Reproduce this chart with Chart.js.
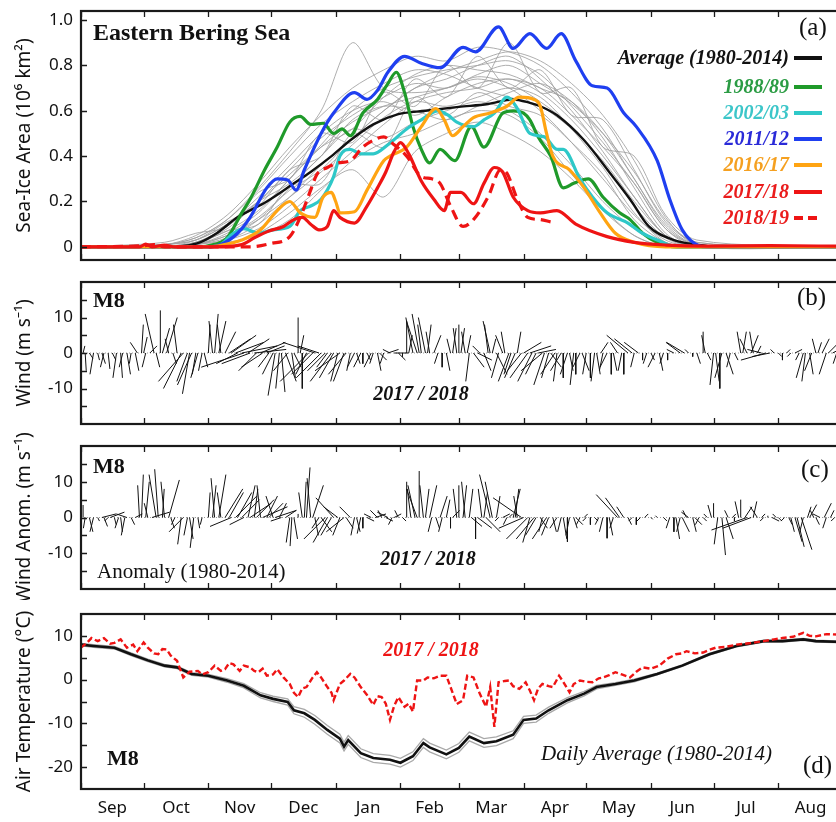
<!DOCTYPE html>
<html>
<head>
<meta charset="utf-8">
<script src="https://cdn.jsdelivr.net/npm/chart.js@4.4.1/dist/chart.umd.min.js"></script>
<style>
html, body { margin: 0; padding: 0; background: #fff; overflow: hidden; width: 836px; height: 822px; }
canvas { position: absolute; left: 0; }
</style>
</head>
<body>
<canvas id="grafA" width="850" height="270" style="top:0px"></canvas>
<canvas id="grafB" width="850" height="160" style="top:270px"></canvas>
<canvas id="grafC" width="850" height="170" style="top:430px"></canvas>
<canvas id="grafD" width="850" height="222" style="top:600px"></canvas>
<script>
// eje x: dias desde el 1 de septiembre
const meses = ["Sep", "Oct", "Nov", "Dec", "Jan", "Feb", "Mar", "Apr", "May", "Jun", "Jul", "Aug"];
const limitesMes = [0, 30, 61, 91, 122, 153, 181, 212, 242, 273, 303, 334, 365];
const mitadMes = [15, 45.5, 76, 106.5, 137.5, 167, 196.5, 227, 257.5, 288, 318.5, 349.5];

// (a) area de hielo, pares [dia, 10^6 km2]
const nombresSeries = ["Average (1980-2014)", "1988/89", "2002/03", "2011/12", "2016/17", "2017/18", "2018/19"];
const hieloMedia = [[0,0],[40,0],[50,0.005],[57,0.02],[65,0.06],[75,0.13],[89,0.2],[102,0.28],[110,0.33],[120,0.4],[129,0.47],[140,0.54],[152,0.585],[165,0.6],[181,0.617],[195,0.63],[207,0.65],[215,0.635],[220,0.62],[228,0.58],[241,0.47],[253,0.33],[263,0.21],[272,0.09],[284,0.03],[295,0.01],[305,0],[365,0]];
const hielo1989 = [[0,0],[55,0],[61,0.005],[70,0.04],[77,0.15],[81,0.21],[88,0.34],[94,0.44],[100,0.55],[105,0.575],[110,0.54],[116,0.545],[121,0.5],[125,0.52],[129,0.49],[135,0.59],[142,0.65],[147,0.72],[151,0.77],[155,0.68],[159,0.53],[163,0.43],[167,0.37],[172,0.43],[179,0.38],[187,0.53],[193,0.44],[202,0.59],[207,0.6],[212,0.59],[215,0.56],[219,0.485],[225,0.4],[231,0.26],[236,0.28],[243,0.3],[250,0.22],[258,0.15],[263,0.12],[269,0.06],[276,0.02],[285,0],[365,0]];
const hielo2003 = [[0,0],[62,0],[67,0.01],[73,0.06],[78,0.08],[85,0.06],[92,0.075],[100,0.09],[105,0.16],[110,0.18],[115,0.21],[121,0.31],[124,0.4],[129,0.43],[134,0.41],[140,0.41],[147,0.45],[156,0.52],[163,0.56],[171,0.6],[176,0.58],[180,0.55],[188,0.53],[193,0.56],[198,0.59],[204,0.66],[209,0.61],[215,0.5],[222,0.485],[228,0.43],[231,0.43],[239,0.3],[245,0.22],[252,0.15],[262,0.105],[268,0.065],[276,0.03],[286,0],[365,0]];
const hielo2012 = [[0,0],[62,0],[67,0.01],[75,0.06],[81,0.13],[89,0.26],[94,0.3],[99,0.295],[103,0.25],[107,0.34],[115,0.5],[121,0.59],[131,0.68],[137,0.65],[142,0.69],[147,0.77],[155,0.84],[163,0.81],[172,0.79],[183,0.88],[189,0.86],[200,0.97],[207,0.875],[215,0.94],[223,0.875],[230,0.94],[237,0.82],[245,0.71],[252,0.7],[260,0.59],[266,0.53],[276,0.38],[282,0.21],[288,0.075],[296,0.005],[300,0],[365,0]];
const hielo2017 = [[0,0],[60,0],[66,0.005],[77,0.03],[86,0.075],[94,0.16],[100,0.2],[105,0.15],[112,0.13],[116,0.22],[120,0.24],[122,0.2],[124,0.15],[131,0.155],[137,0.25],[145,0.38],[148,0.4],[156,0.44],[163,0.53],[170,0.61],[174,0.56],[178,0.49],[183,0.53],[188,0.57],[196,0.59],[204,0.62],[210,0.66],[217,0.65],[220,0.62],[223,0.5],[226,0.4],[234,0.34],[241,0.26],[248,0.16],[256,0.06],[265,0.02],[280,0],[365,0]];
const hielo2018 = [[0,0],[28,0],[31,0.012],[34,0],[40,0.008],[45,0],[64,0],[77,0.01],[83,0.04],[90,0.07],[97,0.09],[102,0.12],[106,0.13],[110,0.1],[114,0.075],[118,0.09],[121,0.16],[124,0.13],[131,0.105],[137,0.18],[142,0.26],[146,0.33],[150,0.42],[153,0.46],[157,0.41],[163,0.29],[169,0.21],[174,0.16],[177,0.24],[182,0.24],[188,0.19],[193,0.28],[198,0.35],[202,0.33],[207,0.22],[214,0.16],[220,0.15],[228,0.16],[237,0.1],[252,0.045],[265,0.02],[280,0.008],[300,0.003],[330,0.005],[365,0.003]];
const hielo2019 = [[0,0],[30,0.005],[35,0.01],[40,0],[81,0],[91,0.015],[100,0.045],[105,0.13],[110,0.25],[113,0.32],[118,0.35],[123,0.37],[129,0.38],[135,0.44],[140,0.47],[145,0.485],[150,0.45],[156,0.4],[163,0.31],[168,0.3],[172,0.28],[177,0.18],[183,0.09],[188,0.12],[195,0.22],[201,0.34],[204,0.325],[209,0.21],[214,0.13],[220,0.12],[225,0.11]];
// anios individuales 1980-2014 (gris)
const diasGris = [0,40,55,70,85,100,115,130,145,160,175,190,205,220,235,250,265,280,295,365];
const aniosGris = [
  [0,0,0.01,0.06,0.15,0.3,0.45,0.6,0.7,0.75,0.78,0.8,0.82,0.76,0.62,0.46,0.28,0.08,0.01,0],
  [0,0.01,0.04,0.12,0.26,0.42,0.6,0.9,0.7,0.68,0.7,0.74,0.7,0.6,0.46,0.3,0.14,0.03,0,0],
  [0,0,0,0.03,0.1,0.22,0.36,0.48,0.6,0.7,0.74,0.8,0.84,0.74,0.6,0.42,0.22,0.05,0,0],
  [0,0,0.01,0.04,0.12,0.26,0.4,0.52,0.48,0.55,0.6,0.64,0.6,0.5,0.36,0.2,0.08,0.01,0,0],
  [0,0.01,0.05,0.14,0.28,0.44,0.58,0.7,0.78,0.84,0.82,0.88,0.86,0.8,0.68,0.52,0.3,0.1,0.01,0],
  [0,0,0,0.02,0.05,0.12,0.25,0.38,0.46,0.5,0.56,0.6,0.58,0.48,0.32,0.17,0.05,0,0,0],
  [0,0,0.02,0.08,0.2,0.34,0.48,0.58,0.66,0.72,0.7,0.76,0.8,0.72,0.63,0.5,0.33,0.12,0.02,0],
  [0,0,0.01,0.03,0.08,0.18,0.3,0.42,0.54,0.64,0.68,0.7,0.74,0.68,0.56,0.4,0.22,0.05,0,0],
  [0,0.01,0.03,0.1,0.22,0.36,0.5,0.6,0.64,0.58,0.66,0.72,0.74,0.7,0.58,0.44,0.28,0.08,0,0],
  [0,0,0.01,0.05,0.13,0.25,0.34,0.48,0.6,0.7,0.77,0.82,0.86,0.82,0.72,0.58,0.38,0.13,0.01,0],
  [0,0,0,0.01,0.06,0.15,0.26,0.34,0.22,0.42,0.5,0.55,0.5,0.42,0.3,0.16,0.05,0,0,0],
  [0,0.01,0.04,0.12,0.25,0.4,0.54,0.64,0.72,0.78,0.76,0.7,0.66,0.62,0.52,0.38,0.2,0.05,0,0],
  [0,0,0.02,0.07,0.16,0.3,0.44,0.55,0.62,0.66,0.7,0.75,0.72,0.64,0.53,0.37,0.18,0.04,0,0],
  [0,0,0.01,0.05,0.12,0.22,0.33,0.45,0.57,0.64,0.62,0.66,0.7,0.66,0.52,0.35,0.15,0.02,0,0],
  [0,0,0.02,0.09,0.2,0.32,0.44,0.52,0.66,0.76,0.8,0.78,0.76,0.7,0.64,0.5,0.3,0.09,0.01,0],
  [0,0.01,0.03,0.1,0.2,0.28,0.4,0.56,0.62,0.6,0.56,0.62,0.68,0.72,0.64,0.48,0.26,0.06,0,0],
  [0,0,0.03,0.11,0.18,0.34,0.4,0.62,0.56,0.74,0.66,0.84,0.7,0.78,0.58,0.56,0.34,0.11,0.02,0],
  [0,0.02,0.06,0.09,0.24,0.3,0.5,0.46,0.68,0.62,0.8,0.7,0.9,0.68,0.7,0.44,0.4,0.14,0.03,0],
  [0,0,0.01,0.07,0.1,0.27,0.28,0.5,0.44,0.66,0.58,0.68,0.62,0.58,0.46,0.32,0.12,0.02,0,0]
];

// (b) viento M8 2017/18, [dia, u, v] m/s
const vientoM8 = [[1,0.5,2],[2,0.3,-5],[4,1,-1.5],[6,-1,-6],[8,0.5,-2],[10,1,-3],[11,-1,-4],[13,0.5,-4.5],[15,1,-2],[17,-1,-7],[19,0.5,-7],[20,-1,-4],[22,1,-6],[24,-0.5,-3],[26,1,-5],[27,-2,3],[29,0.5,8],[30,1,4.5],[31,-1,-4],[33,2,2],[35,-2.5,11],[36,1,-4],[38,0,12],[39,2,7],[41,3,10],[42,-1,4],[44,1,-3],[46,-1,8],[48,-5,-10],[49,-7,-8],[51,-3,-8],[52,-2,-11.5],[53,-4,-9],[55,-1,-6],[56,-2,-7],[58,-1,-5],[59,1,-4],
  [61,0.5,8],[63,-1,9],[64,1,11],[66,2,9],[67,-1,8],[69,3,6],[71,6,4],[72,7,5],[74,8,3],[75,-6,-3],[77,10,2],[78,-12,-4],[80,6,4],[81,-8,-3],[83,9,1],[84,-5,-5],[86,7,3],[87,-6,-4],[89,5,2],[90,-3,-4],[92,-3,-6],[93,-2,-12],[95,-1,-10],[96,1,-11],[98,3,-8],[99,-4,-5],[101,1,-7],[102,2,-4],[104,0,10],[105,1,5],[106,0,-10],[108,-3,-6],[109,-8,-8],[111,-6,-6],[112,-9,3],[114,-6,2],[115,-7,-7],[117,-5,-5],[118,-3,-4],[120,-6,-8],[121,-4,-7],[123,-2,-8],[124,-7,-5],[126,-3,-8],[127,-5,-6],[129,-1,-5],[131,-2,-4],[132,1,-3],[134,-2,-4],[135,0,-3],[137,1,-2],[139,-2,-4],[140,-1,-3],[142,1,-5],[143,2,-2],[145,-1,-3],[147,3,1],[148,-2,1],[150,4,0],[152,2,-2],[154,0,-1],[156,0,9],[157,1,5],[159,-2,10],
  [161,-3,9],[162,-2,11],[163,-1,8],[165,-2,10],[166,1,8],[167,-1,6],[169,2,5],[171,-1,-3],[173,0,-4],[175,1,-5],[177,-1,4],[178,1,7],[180,-1,7],[181,0,8],[182,1,7],[184,-1,6],[185,1,5],[186,-1,-8],[188,3,-4],[190,4,-2],[191,-2,2],[193,2,-5],[195,-1,8],[196,-2,9],[197,1,4],[199,3,-6],[200,-2,-7],[202,-2,5],[203,-1,6],[205,-3,-8],[206,-2,-6],[208,-3,-7],[209,1,6],[211,-4,-5],[212,5,3],[214,-5,-7],[215,6,2],[216,-4,-8],[218,-3,-6],[219,5,1],[221,-6,-5],[222,-3,-9],[224,-2,-7],[225,3,-4],[227,-4,-6],[228,-1,-8],[230,-3,-5],[231,0,-7],[233,-2,-6],[234,1,-5],[236,-1,-9],[237,0,-6],[239,-2,-4],[240,2,-5],[242,-1,-6],[244,0,-7],[246,-1,-8],[247,1,-6],[249,2,3],[250,-1,-5],[252,-2,-4],[254,0,-6],[255,1,-5],[257,-2,3],[259,-1,-5],[260,0,-6],[262,-6,5],[264,-5,4],[265,-1,-4],[267,-4,3],[269,0,-2],[271,-1,-3],[273,1,-2],[275,-2,-4],[277,1,-5],[279,-1,-3],[281,0,-2],[284,-2,1],[287,-4,3],[289,-5,3],[291,-1,1],[293,0,-1],[295,1,-3],[298,0,6],[299,-1,5],[300,1,-2],[303,-1,-9],[304,1,-8],[306,0,-10],[307,-2,-7],[309,2,-6],[311,-1,-4],[313,1,-2],[316,-1,6],[317,1,6],[319,-2,4],[321,2,5],[322,-1,6],[324,1,2],[326,-4,1],[328,-7,-2],[330,-5,-1],[332,-1,1],[334,1,-1],[336,0,-2],[338,1,1],[340,-1,-1],[342,2,1],[344,-1,-2],[346,-2,-7],[347,-1,-8],[349,1,-6],[350,-2,-5],[352,-1,4],[353,1,3],[355,2,4],[357,-2,-6],[358,3,3],[360,4,2],[362,-1,-3],[364,2,2]];

// (c) anomalia del viento respecto de 1980-2014, [dia, u, v] m/s
const anomaliaM8 = [[1,0,3.5],[2,-0.5,-3],[4,1,-4],[6,-1,-4],[8,0.5,-1],[10,4,1],[11,1,-2.5],[13,-1,-1],[14,4,1.5],[16,0.5,-2],[18,-1,-3],[19,0.5,-4],[21,-1,-5],[22,-3,1],[24,1,-2],[26,2,1],[28,-0.5,9],[29,0.5,12],[31,1,10],[32,-1,4],[34,5,1.5],[36,-2,12],[37,-1,13.5],[39,0.5,8],[40,-1,10],[42,3,10.5],[43,1,-3],[45,-1,-2],[48,-1,-7.5],[49,-4,-4],[51,-1,-5],[52,1,-6],[54,-1,-8.5],[56,0.5,-3],[58,-0.5,-2],
  [61,0.5,7],[63,1,9],[64,-1,11],[66,2,12],[67,-1,7],[69,5,8],[71,4,7],[72,-6,-2.5],[74,6,6],[75,4,7],[77,5,5],[78,-4,-2],[80,2,9],[81,6,4],[83,1,8],[84,5,5],[86,-1,9],[87,7,3],[89,3,6],[90,4,4],[92,-2,6],[93,6,2],[95,2,4],[96,-3,-1],[98,3,2],[100,-1,-7],[101,-0.5,-8],[102,1,-6],[104,0,1],[106,-1,7],[107,0.5,10],[108,1,14],[110,-1,11],[111,3,9],[112,1,-5],[114,-2,-3],[115,3,-4],[117,-6,-6],[118,-4,-7],[120,-3,-5],[121,-5,5.5],[123,-4,3],[124,-2,-5],[126,-5,-4],[127,2,-3],[129,-3,3],[131,-1,-5],[132,1,-4],[134,-1,-4.5],[135,0,-3],[137,2,-1],[139,-2,1],[141,3,1],[142,-2,2],[144,-1,2],[146,2,-1],[147,-3,1.5],[149,-1,-2],[150,2,1],[152,-1,2],[154,1,-1],[156,0,10],[158,-1,8],[160,-2,9],
  [161,-3,8],[162,0,13],[164,-1,9],[165,1,8],[167,2,9],[168,-1,-4],[170,1,-3],[172,2,6],[173,-1,-4],[175,1,5],[177,0,-3],[178,2,2],[180,-1,8],[181,0,9],[183,1,9],[184,-1,10],[186,1,8],[187,3,-2.5],[189,0,-6],[190,4,-3],[192,-1,8],[193,1,7],[194,4,-4],[196,-3,12],[197,-2,10],[199,1,6],[200,-1,-1],[202,2,1],[204,-1,-2],[205,1,1],[207,2,8],[208,1,8],[209,-1,6],[211,-8,5.5],[212,-7,-3],[214,-6,-6],[215,-2,-7],[217,-5,-6],[218,-3,-5],[220,2,-3],[221,-1,-4],[223,-4,-6],[224,-2,-5],[226,1,-4],[228,-2,-3],[230,-1,-4],[231,1,-6],[233,0,-6.8],[234,-1,-5],[236,1,-3],[237,2,-2],[239,-1,-2],[241,1,1],[242,-1,-1],[244,0,-2],[246,1,-1],[248,-1,-2],[250,-1,-4],[252,0,-5.8],[253,1,-5],[255,-1,-3],[257,-6,6.4],[258,-4,5.5],[260,-2,3],[262,1,-2],[264,-1,-1],[266,0,-2],[268,-1,-1],[270,1,1],[273,0.5,-0.5],[276,-0.5,0.5],[279,1,-1],[282,-1,-3],[284,0,-4],[285,1,-6],[287,-1,-4],[288,2,-4],[290,-1,2],[291,-2,1.5],[293,1,-4],[294,2,-2],[296,-1,-2],[298,1,-1],[300,-1,1],[302,-1,3.5],[303,0,4],[305,-1,-7.5],[307,1,-10.5],[309,2,-6],[310,-1,2],[312,1,1],[313,0,-1],[315,-1,4.5],[316,0,5],[318,2,3],[319,-10,-3.5],[321,-8,-3],[322,1,4.5],[324,-2,3],[326,1,1],[327,-1,-1],[329,0,0.5],[331,2,-1],[333,-1,1],[334,1,-1],[337,-1,-1],[339,1,-2],[340,1,-4],[342,2,-6.8],[343,2,-8.2],[345,3,-9],[346,-1,-4],[348,1,3],[349,2,3.6],[351,-1,2],[352,1,-2],[354,-2,1],[356,2,4],[357,-1,-3],[359,1,2],[361,-1,-1],[363,0,1]];

// (d) temperatura del aire en M8 (grados C)
const diasTemp = [0,6,16,24,32,40,46,53,61,70,78,86,92,99,102,107,112,118,124,126,128,134,140,148,153,159,164,167,175,181,186,193,199,207,212,218,224,233,241,247,256,265,276,288,301,314,327,336,346,352,365];
const tempMedia = [8.0,7.7,7.3,5.8,4.4,3.2,2.8,1.3,0.9,-0.2,-1.4,-3.6,-4.4,-5.1,-7.0,-7.7,-9.2,-11.5,-13.5,-15.3,-13.8,-16.8,-17.9,-18.3,-19.0,-17.5,-14.5,-15.5,-17.1,-15.6,-13.0,-14.5,-14.1,-12.6,-9.2,-8.9,-7.0,-4.7,-3.2,-1.7,-1.0,-0.2,1.3,3.2,5.8,7.7,8.8,8.8,9.2,8.8,8.6];
const tempAlta = [8.3,8.0,7.6,6.1,4.7,3.5,3.1,1.6,1.2,0.2,-0.9,-3.0,-3.8,-4.4,-6.2,-6.8,-8.2,-10.5,-12.5,-14.3,-12.8,-15.8,-16.9,-17.3,-18.0,-16.5,-13.5,-14.5,-16.1,-14.6,-12.0,-13.5,-13.1,-11.7,-8.4,-8.1,-6.3,-4.1,-2.7,-1.3,-0.7,0.1,1.5,3.4,6.0,7.9,9.0,9.0,9.4,9.0,8.8];
const tempBaja = [7.7,7.4,7.0,5.5,4.1,2.9,2.5,1.0,0.6,-0.6,-1.9,-4.2,-5.0,-5.8,-7.8,-8.6,-10.2,-12.5,-14.5,-16.3,-14.8,-17.8,-18.9,-19.3,-20.0,-18.5,-15.5,-16.5,-18.1,-16.6,-14.0,-15.5,-15.1,-13.5,-10.0,-9.7,-7.7,-5.3,-3.7,-2.1,-1.3,-0.5,1.1,3.0,5.6,7.5,8.6,8.6,9.0,8.6,8.4];
const temp2018 = [[0,7.3],[3,8.5],[5,9.5],[8,8.8],[11,9.5],[14,8.2],[16,8.4],[19,9.2],[22,7.3],[25,8.0],[27,6.5],[30,8.5],[32,7.3],[35,6.0],[37,5.8],[39,7.0],[41,6.9],[43,5.5],[46,4.3],[49,0.5],[52,1.8],[56,2.0],[58,1.2],[61,1.7],[64,3.2],[67,2.0],[69,2.4],[71,3.8],[73,3.5],[76,2.0],[78,3.2],[81,2.8],[83,2.0],[85,1.7],[87,2.5],[89,0.9],[92,1.2],[94,2.4],[97,0.5],[100,-1.0],[102,-3.0],[104,-4.0],[106,-2.0],[108,-1.7],[111,0.5],[113,1.7],[115,0.5],[118,-1.7],[120,-3.0],[121,-4.7],[124,-1.0],[126,-0.2],[129,1.3],[131,0.5],[134,-1.7],[137,-3.5],[140,-5.8],[142,-3.8],[144,-4.0],[146,-5.5],[148,-9.2],[150,-6.0],[152,-4.0],[155,-6.2],[157,-5.5],[159,-7.3],[161,-0.2],[164,-0.2],[166,0.5],[169,0.3],[172,0.9],[175,0.9],[177,-1.7],[180,-5.6],[183,-4.7],[185,0.9],[188,0.5],[191,-3.2],[194,-6.2],[196,-1.7],[198,-10.8],[200,-0.6],[203,-0.3],[205,-0.2],[207,-1.5],[210,-2.1],[213,-0.6],[215,-2.5],[217,-4.7],[219,-2.0],[221,-1.0],[224,-1.5],[226,-1.7],[229,0.9],[231,-0.5],[234,-2.9],[236,-1.0],[239,-0.2],[242,-0.5],[245,-0.6],[248,0.3],[250,0.5],[253,1.0],[256,1.7],[259,1.2],[263,0.5],[266,1.8],[269,2.8],[273,2.5],[277,3.2],[281,4.8],[285,5.8],[288,6.0],[290,6.5],[294,6.0],[298,6.2],[301,6.8],[304,7.3],[309,7.5],[314,8.0],[320,8.3],[327,8.8],[332,9.2],[336,9.5],[341,9.8],[346,10.7],[349,10.0],[352,9.9],[357,10.4],[362,10.3],[365,10.5]];

// estilo
const colores = ["#111111", "#1f9a2a", "#2ec8c8", "#1f3ff0", "#ffa412", "#ee1414", "#ee1414"];
const coloresTexto = ["#111111", "#2b9c44", "#3cc6c9", "#2a2ad8", "#f5a020", "#ea1c1c", "#ea1c1c"];
const fuenteSans = '"Noto Sans", "DejaVu Sans", sans-serif';
const serif = '"Liberation Serif", "DejaVu Serif", serif';
const escalaPalito = 1.7; // dias por m/s, para que el palito no se deforme

const aPuntos = pares => pares.map(([x, y]) => ({x, y}));
const palitos = lista => {
  const pts = [];
  lista.forEach(([d, u, v]) => { pts.push({x: d, y: 0}, {x: d + u * escalaPalito, y: v}, {x: d, y: null}); });
  return pts;
};
const lineaHielo = (pares, color, ancho, guion) => ({
  data: aPuntos(pares), borderColor: color, borderWidth: ancho, borderDash: guion || [],
  pointRadius: 0, cubicInterpolationMode: 'monotone', fill: false
});

//marco, marcas hacia adentro, textos y leyenda
const marcos = {
  id: 'marcos',
  afterDatasetsDraw(chart, args, o) {
    if (!o || !o.marcasY) return;
    const {ctx, chartArea: a, scales: {x, y}} = chart;
    ctx.save();
    ctx.strokeStyle = '#1a1a1a';
    ctx.lineWidth = 1.3;
    ctx.beginPath();
    limitesMes.forEach(d => {
      const px = Math.round(x.getPixelForValue(d)) + 0.5;
      ctx.moveTo(px, a.top); ctx.lineTo(px, a.top + 6);
      ctx.moveTo(px, a.bottom); ctx.lineTo(px, a.bottom - 6);
    });
    o.marcasY.forEach(v => {
      const py = Math.round(y.getPixelForValue(v)) + 0.5;
      ctx.moveTo(a.left, py); ctx.lineTo(a.left + 6, py);
    });
    ctx.stroke();
    ctx.lineWidth = 2.2;
    ctx.strokeRect(a.left, a.top, a.right - a.left, a.bottom - a.top);
    (o.textos || []).forEach(t => {
      ctx.font = t.font; ctx.fillStyle = t.color || '#111';
      ctx.textAlign = t.align || 'left'; ctx.textBaseline = 'alphabetic';
      ctx.fillText(t.txt, t.x, t.y);
    });
    if (o.leyenda) {
      const filas = [58, 87, 113, 139, 165, 192, 218];
      ctx.font = 'bold italic 20px ' + serif;
      ctx.textAlign = 'right';
      ctx.textBaseline = 'middle';
      nombresSeries.forEach((n, i) => {
        ctx.fillStyle = coloresTexto[i];
        ctx.fillText(n, 789, filas[i] + 1);
        ctx.strokeStyle = colores[i];
        ctx.lineWidth = 4;
        ctx.setLineDash(i === 6 ? [9, 5] : []);
        ctx.beginPath(); ctx.moveTo(794, filas[i]); ctx.lineTo(822, filas[i]); ctx.stroke();
      });
      ctx.setLineDash([]);
    }
    ctx.restore();
  }
};
Chart.register(marcos);

const ejeX = mostrar => ({
  type: 'linear', min: 0, max: 365, display: mostrar,
  grid: {display: false, drawTicks: false}, border: {display: false},
  afterBuildTicks: s => { s.ticks = mitadMes.map(v => ({value: v})); },
  ticks: {autoSkip: false, maxRotation: 0, padding: 9, color: '#111', font: {family: fuenteSans, size: 17},
    callback: (v, i) => meses[i]},
  afterFit: s => {
    s.height = mostrar ? 33 : 0;
    s.paddingLeft = 0; s.paddingRight = 0;
  }
});
const ejeY = (min, max, conEtiqueta, titulo, formato) => ({
  type: 'linear', min, max, position: 'left',
  grid: {display: false, drawTicks: false}, border: {display: false},
  afterBuildTicks: s => { s.ticks = conEtiqueta.map(v => ({value: v})); },
  ticks: {padding: 8, color: '#111', font: {family: fuenteSans, size: 17}, callback: formato},
  title: {display: true, text: titulo, color: '#111', font: {family: fuenteSans, size: 19}, padding: {top: 13, bottom: 0}},
  afterFit: s => {
    s.width = 81;
    s.paddingTop = 0; s.paddingBottom = 0;
  }
});
const opciones = (arriba, abajo, escalas, marcas) => ({
  responsive: false, animation: false, events: [],
  layout: {padding: {left: 0, right: 7, top: arriba, bottom: abajo}},
  scales: escalas,
  plugins: {legend: {display: false}, tooltip: {enabled: false}, marcos: marcas}
});

// (a)
const dsGris = aniosGris.map(vals => ({
  data: diasGris.map((d, i) => ({x: d, y: vals[i]})), borderColor: 'rgba(160,160,160,0.85)', borderWidth: 1,
  pointRadius: 0, tension: 0.3, fill: false
}));
new Chart(document.querySelector('#grafA'), {
  type: 'line',
  data: {datasets: [
    lineaHielo(hielo2018, colores[5], 3.2),
    lineaHielo(hielo2019, colores[6], 3.2, [10, 6]),
    lineaHielo(hielo2017, colores[4], 3.2),
    lineaHielo(hielo2012, colores[3], 3.2),
    lineaHielo(hielo2003, colores[2], 3.2),
    lineaHielo(hielo1989, colores[1], 3.2),
    lineaHielo(hieloMedia, colores[0], 2.4),
    ...dsGris
  ]},
  options: opciones(11, 10, {
    x: ejeX(false),
    y: ejeY(-0.058, 1.04, [0, 0.2, 0.4, 0.6, 0.8, 1.0], 'Sea-Ice Area (10\u2076 km\u00b2)', v => v === 0 ? '0' : v.toFixed(1))
  }, {
    marcasY: [0, 0.2, 0.4, 0.6, 0.8, 1.0],
    leyenda: true,
    textos: [
      {txt: 'Eastern Bering Sea', x: 93, y: 40, font: 'bold 24px ' + serif},
      {txt: '(a)', x: 799, y: 35, font: '25px ' + serif}
    ]
  })
});

// (b)
const dsPalitos = (lista) => [
  {data: palitos(lista), borderColor: '#111', borderWidth: 1, pointRadius: 0, tension: 0, spanGaps: false, fill: false},
  {data: [{x: 0, y: 0}, {x: 365, y: 0}], borderColor: '#9a9a9a', borderWidth: 1, borderDash: [1, 2], pointRadius: 0}
];
new Chart(document.querySelector('#grafB'), {
  type: 'line',
  data: {datasets: dsPalitos(vientoM8)},
  options: opciones(12, 6, {
    x: ejeX(false),
    y: ejeY(-20, 20, [-10, 0, 10], 'Wind (m s\u207b\u00b9)', v => String(v))
  }, {
    marcasY: [-15, -10, -5, 0, 5, 10, 15],
    textos: [
      {txt: 'M8', x: 93, y: 37, font: 'bold 22px ' + serif},
      {txt: '(b)', x: 797, y: 35, font: '25px ' + serif},
      {txt: '2017 / 2018', x: 421, y: 130, font: 'bold italic 20px ' + serif, align: 'center'}
    ]
  })
});

// (c)
new Chart(document.querySelector('#grafC'), {
  type: 'line',
  data: {datasets: dsPalitos(anomaliaM8)},
  options: opciones(16, 11, {
    x: ejeX(false),
    y: ejeY(-20, 20, [-10, 0, 10], 'Wind Anom. (m s\u207b\u00b9)', v => String(v))
  }, {
    marcasY: [-15, -10, -5, 0, 5, 10, 15],
    textos: [
      {txt: 'M8', x: 93, y: 43, font: 'bold 22px ' + serif},
      {txt: '(c)', x: 801, y: 47, font: '25px ' + serif},
      {txt: '2017 / 2018', x: 428, y: 135, font: 'bold italic 20px ' + serif, align: 'center'},
      {txt: 'Anomaly (1980-2014)', x: 97, y: 148, font: '21px ' + serif}
    ]
  })
});

// (d)
const lineaTemp = (vals, color, ancho) => ({
  data: diasTemp.map((d, i) => ({x: d, y: vals[i]})), borderColor: color, borderWidth: ancho,
  pointRadius: 0, tension: 0, fill: false
});
new Chart(document.querySelector('#grafD'), {
  type: 'line',
  data: {datasets: [
    {data: aPuntos(temp2018), borderColor: '#ee1414', borderWidth: 2.4, borderDash: [6, 3], pointRadius: 0, tension: 0, fill: false},
    lineaTemp(tempMedia, '#111', 2.6),
    lineaTemp(tempAlta, '#a8a8a8', 1.3),
    lineaTemp(tempBaja, '#a8a8a8', 1.3)
  ]},
  options: opciones(14, 0, {
    x: ejeX(true),
    y: ejeY(-25, 15, [-20, -10, 0, 10], 'Air Temperature (\u00b0C)', v => String(v))
  }, {
    marcasY: [-20, -15, -10, -5, 0, 5, 10],
    textos: [
      {txt: 'M8', x: 107, y: 165, font: 'bold 22px ' + serif},
      {txt: '(d)', x: 803, y: 173, font: '25px ' + serif},
      {txt: '2017 / 2018', x: 431, y: 56, font: 'bold italic 20px ' + serif, color: '#ee1414', align: 'center'},
      {txt: 'Daily Average (1980-2014)', x: 541, y: 160, font: 'italic 21px ' + serif}
    ]
  })
});
</script>
</body>
</html>
